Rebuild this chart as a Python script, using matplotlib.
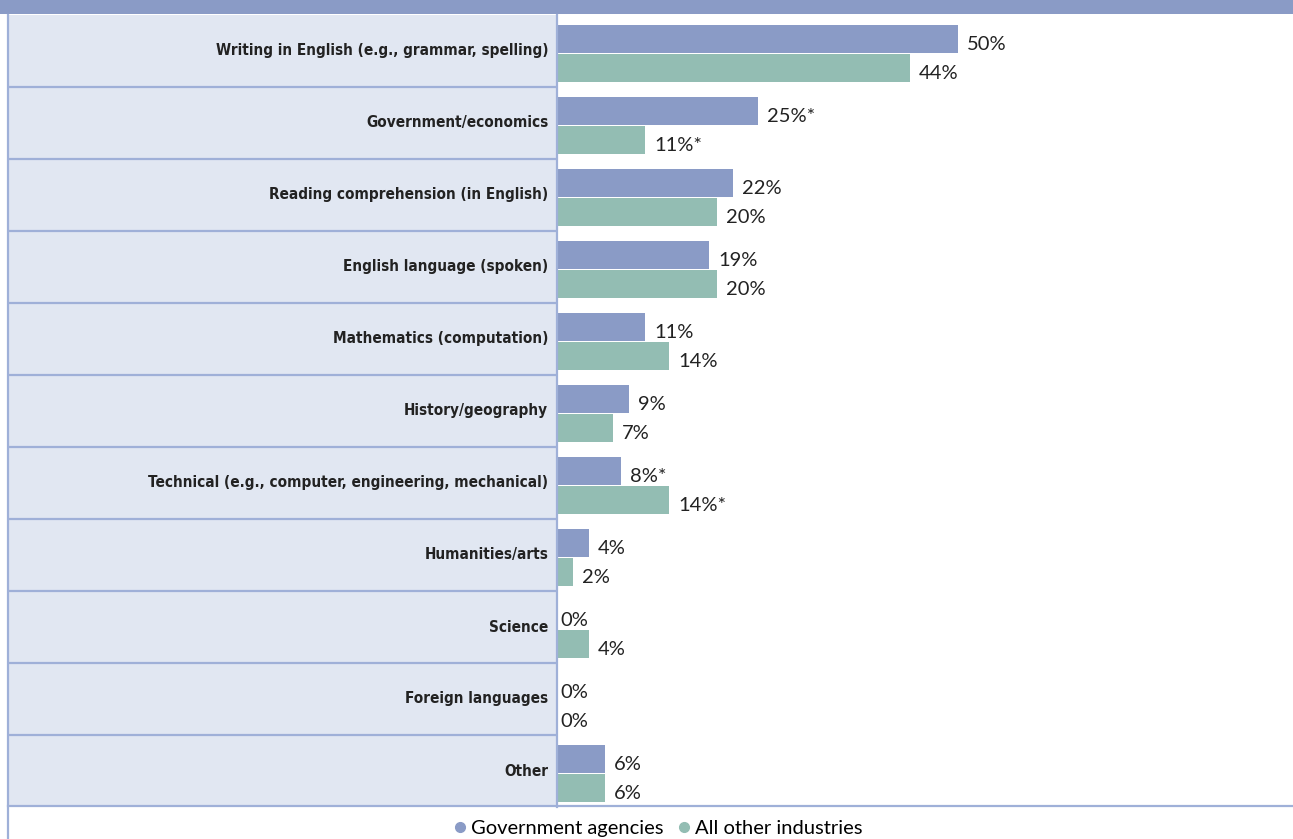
import matplotlib.pyplot as plt
from matplotlib.patches import Rectangle
from matplotlib.lines import Line2D

# survey data: share of respondents citing each skill area
categories = ['Writing in English (e.g., grammar, spelling)',
              'Government/economics',
              'Reading comprehension (in English)',
              'English language (spoken)',
              'Mathematics (computation)',
              'History/geography',
              'Technical (e.g., computer, engineering, mechanical)',
              'Humanities/arts',
              'Science',
              'Foreign languages',
              'Other']
gov_agencies = [50, 25, 22, 19, 11, 9, 8, 4, 0, 0, 6]
other_industries = [44, 11, 20, 20, 14, 7, 14, 2, 4, 0, 6]
significant = [False, True, False, False, False, False, True, False, False, False, False]
series_names = ['Government agencies', 'All other industries']

BLUE = '#8a9bc6'
GREEN = '#93bdb3'
PANEL = '#e1e7f2'
RULE = '#9fb0d8'
W, H = 1293, 839

fig = plt.figure(figsize=(W / 100, H / 100), dpi=100)

def px_box(x0, y0, x1, y1):
    return [x0 / W, (H - y1) / H, (x1 - x0) / W, (y1 - y0) / H]

# header band
fig.patches.append(Rectangle((0, (H - 14) / H), 1, 14 / H, transform=fig.transFigure,
                             facecolor=BLUE, edgecolor='none', zorder=0))

n = len(categories)
ax_lab = fig.add_axes(px_box(8, 15, 557, 807))
ax = fig.add_axes(px_box(557, 15, W, 807))

# label panel
ax_lab.set_facecolor(PANEL)
ax_lab.set_xlim(0, 1)
ax_lab.set_ylim(n, 0)
for i in range(1, n):
    ax_lab.axhline(i, color=RULE, lw=1.6)
for i, cat in enumerate(categories):
    ax_lab.text(0.984, i + 0.5, cat, ha='right', va='center', fontsize=11,
                fontweight='bold', family='DejaVu Sans', fontstretch='condensed',
                color='#222222')
ax_lab.set_xticks([])
ax_lab.set_yticks([])
for s in ax_lab.spines.values():
    s.set_visible(False)

# bars
ax.set_xlim(0, (W - 557) / 8.02)
ax.set_ylim(n, 0)
bh = 0.40
y_blue = [i + 0.5 - 0.167 for i in range(n)]
y_green = [i + 0.5 + 0.236 for i in range(n)]
ax.barh(y_blue, gov_agencies, height=bh, color=BLUE)
ax.barh(y_green, other_industries, height=bh, color=GREEN)

for vals, ys in ((gov_agencies, y_blue), (other_industries, y_green)):
    for v, y, star in zip(vals, ys, significant):
        txt = f'{v}%' + ('*' if star else '')
        off = 9 if v > 0 else 3
        ax.annotate(txt, (v, y), xytext=(off, -6), textcoords='offset pixels',
                    ha='left', va='center', fontsize=14.5, family='Lato', color='#222222')

ax.set_xticks([])
ax.set_yticks([])
for s in ax.spines.values():
    s.set_visible(False)

# frame lines
fig.add_artist(Line2D([557 / W, 557 / W], [(H - 15) / H, (H - 807) / H],
                      transform=fig.transFigure, color=RULE, lw=1.6))
fig.add_artist(Line2D([8 / W, 1], [(H - 806) / H] * 2,
                      transform=fig.transFigure, color=RULE, lw=1.6))
fig.add_artist(Line2D([8 / W, 8 / W], [(H - 15) / H, 0],
                      transform=fig.transFigure, color=RULE, lw=1.6))

# legend
handles = [Line2D([], [], marker='o', ls='none', color=c, markersize=7)
           for c in (BLUE, GREEN)]
fig.legend(handles, series_names, loc='center', bbox_to_anchor=(657 / W, (H - 828) / H),
           ncol=2, frameon=False, handlelength=0.8, handletextpad=0.15, columnspacing=0.6,
           prop={'family': 'Lato', 'size': 14.5})

fig.savefig('out.png', dpi=100)
